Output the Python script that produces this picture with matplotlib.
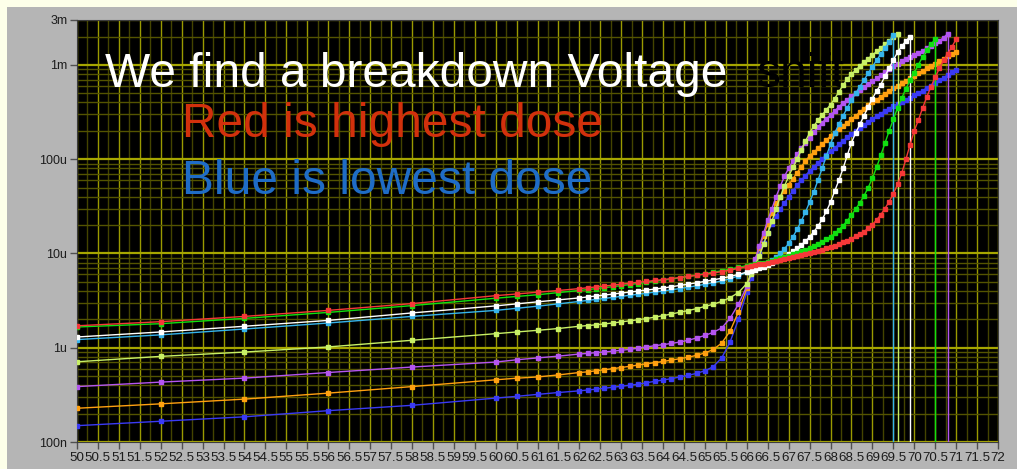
import numpy as np
import matplotlib.pyplot as plt
from matplotlib.ticker import FixedLocator, NullFormatter

# bias voltage of each sweep step (V)
volts = [50, 52, 54, 56, 58, 60, 60.5, 61, 61.5, 62,
         62.2, 62.4, 62.6, 62.8, 63.0, 63.2, 63.4, 63.6, 63.8, 64.0,
         64.2, 64.4, 64.6, 64.8, 65.0, 65.2, 65.4, 65.6, 65.8, 66.0,
         66.1, 66.2, 66.3, 66.4, 66.5, 66.6, 66.7, 66.8, 66.9, 67.0,
         67.1, 67.2, 67.3, 67.4, 67.5, 67.6, 67.7, 67.8, 67.9, 68.0,
         68.1, 68.2, 68.3, 68.4, 68.5, 68.6, 68.7, 68.8, 68.9, 69.0,
         69.1, 69.2, 69.3, 69.4, 69.5, 69.6, 69.7, 69.8, 69.9, 70.0,
         70.1, 70.2, 70.3, 70.4, 70.5, 70.6, 70.7, 70.8, 70.9, 71.0]

# currents in uA, one list per dose (sweep stops where the list ends)
red_uA = [1.71, 1.89, 2.15, 2.49, 2.94, 3.57, 3.72, 3.88, 4.05, 4.24,
          4.33, 4.42, 4.52, 4.62, 4.72, 4.83, 4.94, 5.05, 5.17, 5.29,
          5.42, 5.56, 5.71, 5.87, 6.04, 6.22, 6.42, 6.65, 6.95, 7.25,
          7.35, 7.5, 7.65, 7.8, 7.95, 8.1, 8.3, 8.5, 8.7, 8.9,
          9.1, 9.35, 9.6, 9.85, 10.1, 10.4, 10.7, 11.0, 11.35, 11.7,
          12.1, 12.6, 13.1, 13.7, 14.4, 15.2, 16.1, 17.1, 18.5, 20.3,
          22.7, 25.8, 30, 35.5, 43, 54, 71, 100, 143, 200,
          262, 350, 460, 590, 740, 920, 1120, 1320, 1560, 1880]
green_uA = [1.66, 1.80, 2.05, 2.37, 2.80, 3.35, 3.50, 3.65, 3.85, 4.05,
            4.14, 4.24, 4.34, 4.45, 4.56, 4.68, 4.80, 4.93, 5.06, 5.20,
            5.35, 5.51, 5.70, 5.90, 6.12, 6.33, 6.56, 6.82, 7.12, 7.45,
            7.55, 7.7, 7.85, 8.0, 8.2, 8.4, 8.65, 8.9, 9.2, 9.5,
            9.85, 10.2, 10.6, 11.0, 11.5, 12.0, 12.6, 13.3, 14.1, 15.1,
            16.3, 17.8, 19.8, 22.3, 25.5, 29.5, 34.5, 41, 50, 63,
            82, 110, 148, 200, 265, 350, 445, 560, 690, 830,
            1010, 1220, 1440, 1650, 1880]
white_uA = [1.30, 1.47, 1.69, 1.95, 2.34, 2.78, 2.92, 3.07, 3.22, 3.38,
            3.46, 3.54, 3.62, 3.71, 3.80, 3.89, 3.99, 4.09, 4.19, 4.30,
            4.44, 4.58, 4.73, 4.89, 5.06, 5.25, 5.46, 5.70, 6.00, 6.35,
            6.5, 6.7, 6.95, 7.2, 7.5, 7.85, 8.25, 8.7, 9.2, 9.8,
            10.5, 11.3, 12.3, 13.5, 15.0, 17.0, 19.5, 23, 28, 35,
            46, 60, 80, 110, 150, 190, 235, 290, 360, 440,
            530, 620, 760, 930, 1130, 1360, 1580, 1800, 2000]
cyan_uA = [1.22, 1.37, 1.58, 1.83, 2.15, 2.49, 2.62, 2.76, 2.92, 3.10,
           3.18, 3.26, 3.34, 3.42, 3.51, 3.60, 3.69, 3.79, 3.89, 4.0,
           4.12, 4.25, 4.39, 4.54, 4.71, 4.90, 5.12, 5.40, 5.80, 6.3,
           6.6, 6.9, 7.2, 7.6, 8.0, 8.5, 9.2, 10.0, 11.2, 12.8,
           15.0, 18.0, 22, 27.5, 35, 45, 60, 80, 108, 145,
           190, 235, 290, 350, 425, 500, 590, 690, 820, 960,
           1120, 1300, 1520, 1760, 2100]
lime_uA = [0.71, 0.81, 0.90, 1.02, 1.20, 1.41, 1.47, 1.53, 1.60, 1.69,
           1.72, 1.75, 1.79, 1.83, 1.88, 1.93, 1.98, 2.04, 2.11, 2.19,
           2.28, 2.38, 2.48, 2.60, 2.74, 2.90, 3.10, 3.40, 3.85, 4.8,
           6.0, 7.5, 9.5, 12.5, 16.5, 22, 30, 40, 52, 66,
           82, 100, 125, 155, 190, 225, 260, 295, 335, 380,
           440, 520, 610, 710, 800, 880, 970, 1070, 1170, 1270,
           1390, 1510, 1650, 1800, 1960, 2130]
purple_uA = [0.387, 0.432, 0.476, 0.546, 0.624, 0.705, 0.745, 0.78, 0.815, 0.857,
             0.872, 0.887, 0.903, 0.92, 0.94, 0.96, 0.99, 1.02, 1.05, 1.08,
             1.11, 1.15, 1.20, 1.27, 1.35, 1.46, 1.62, 2.05, 2.9, 4.5,
             6.3, 8.7, 12, 16.5, 22.5, 30, 40, 52, 66, 80,
             96, 113, 131, 150, 170, 195, 220, 245, 270, 295,
             325, 360, 395, 430, 465, 505, 545, 585, 625, 670,
             720, 775, 840, 905, 975, 1030, 1090, 1150, 1210, 1270,
             1340, 1420, 1500, 1590, 1690, 1810, 1950, 2150]
orange_uA = [0.228, 0.254, 0.285, 0.330, 0.387, 0.457, 0.475, 0.49, 0.515, 0.546,
             0.555, 0.57, 0.585, 0.60, 0.617, 0.635, 0.655, 0.675, 0.695, 0.715,
             0.74, 0.765, 0.795, 0.83, 0.88, 0.96, 1.12, 1.5, 2.4, 4.3,
             6.2, 8.5, 11.5, 15.5, 20.5, 27, 34, 40, 46, 53,
             62, 72, 83, 96, 108, 119, 130, 145, 160, 176,
             192, 208, 225, 245, 265, 290, 315, 345, 375, 405,
             430, 460, 495, 530, 565, 600, 640, 680, 725, 770,
             820, 870, 920, 975, 1030, 1090, 1160, 1230, 1300, 1360]
blue_uA = [0.149, 0.166, 0.185, 0.215, 0.245, 0.292, 0.305, 0.32, 0.335, 0.349,
           0.356, 0.364, 0.372, 0.381, 0.39, 0.40, 0.41, 0.425, 0.44, 0.455,
           0.47, 0.49, 0.51, 0.535, 0.57, 0.63, 0.78, 1.15, 2.0, 3.9,
           5.5, 7.5, 10, 13, 16.5, 20.5, 25, 29.5, 34.5, 40,
           46, 53, 60, 67, 75, 83, 92, 101, 111, 121,
           132, 144, 157, 171, 185, 200, 215, 232, 250, 268,
           287, 305, 325, 345, 365, 385, 405, 425, 450, 475,
           505, 535, 570, 605, 645, 690, 735, 785, 835, 890]

# (currents, colour, current falls off the plot after the last point)
series = [
    (blue_uA, '#3a3af5', False),
    (orange_uA, '#ffa010', False),
    (purple_uA, '#b455f0', True),
    (lime_uA, '#c8f066', True),
    (cyan_uA, '#36b4ec', True),
    (white_uA, '#ffffff', True),
    (green_uA, '#10e010', True),
    (red_uA, '#f53838', False),
]

y_ticks = [1e-7, 1e-6, 1e-5, 1e-4, 1e-3, 3e-3]
y_labels = ['100n', '1u', '10u', '100u', '1m', '3m']

W, H = 1017, 469
fig = plt.figure(figsize=(W / 100, H / 100), dpi=100)
fig.patch.set_facecolor('#fdffe9')
bg = fig.add_axes([7 / W, 0, 1 - 7 / W, 1 - 7 / H], zorder=-5)
bg.set_facecolor('#b5b5b5')
bg.set_xticks([])
bg.set_yticks([])
for s in bg.spines.values():
    s.set_visible(False)

L, R, T, B = 77, 998, 20, 442
ax = fig.add_axes([L / W, 1 - B / H, (R - L) / W, (B - T) / H])
ax.set_facecolor('black')
ax.set_yscale('log')
ax.set_xlim(50, 72)
ax.set_ylim(1e-7, 3e-3)
ax.set_axisbelow(True)

# grid: bright at labelled ticks, dim in between
xt = np.arange(50, 72.01, 0.5)
ax.xaxis.set_major_locator(FixedLocator(xt))
ax.set_xticklabels(['%g' % v for v in xt])
ax.xaxis.set_minor_locator(FixedLocator(xt[:-1] + 0.25))
ax.yaxis.set_major_locator(FixedLocator(y_ticks))
ax.set_yticklabels(y_labels)
ax.yaxis.set_minor_locator(FixedLocator([m * 10.0 ** e for e in range(-7, -3) for m in range(2, 10)] + [2e-3]))
ax.yaxis.set_minor_formatter(NullFormatter())
ax.xaxis.grid(True, which='major', color='#9a9a00', lw=1.0)
ax.xaxis.grid(True, which='minor', color='#444400', lw=1.0)
ax.yaxis.grid(True, which='major', color='#a6a600', lw=1.6)
ax.yaxis.grid(True, which='minor', color='#545400', lw=1.0)

ax.tick_params(which='major', direction='out', length=5, width=1, color='#505050',
               labelsize=9.6, labelcolor='#1c1c1c', pad=2)
ax.tick_params(axis='y', labelsize=9.0)
ax.tick_params(which='minor', length=0)
for lbl in ax.get_xticklabels() + ax.get_yticklabels():
    lbl.set_family('Liberation Sans')
for s in ax.spines.values():
    s.set_color('#3c3c3c')

for uA, col, drops in series:
    v = volts[:len(uA)]
    amps = np.array(uA) * 1e-6
    ax.plot(v, amps, color=col, lw=1.0, marker='s', ms=2.2, mec=col, mfc=col, zorder=3)
    if drops:
        ax.plot([v[-1], v[-1]], [amps[-1], 1e-9], color=col, lw=1.0, zorder=3)

fnt = dict(family='Liberation Sans', fontsize=34.5, transform=ax.transAxes, zorder=2)
ax.text((105 - L) / (R - L), (B - 87) / (B - T), 'We find a breakdown Voltage', color='white', **fnt)
ax.text((757 - L) / (R - L), (B - 87) / (B - T), 'shift', color='black', **fnt)
ax.text((182 - L) / (R - L), (B - 137) / (B - T), 'Red is highest dose', color='#d2300c', **fnt)
ax.text((182 - L) / (R - L), (B - 194) / (B - T), 'Blue is lowest dose', color='#1f6cc6', **fnt)

fig.savefig('out.png', dpi=100, facecolor=fig.get_facecolor())
